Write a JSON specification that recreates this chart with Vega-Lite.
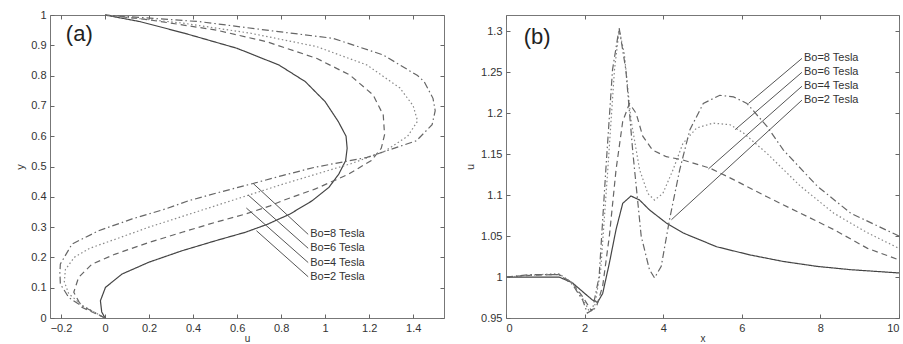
{
"$schema": "https://vega.github.io/schema/vega-lite/v6.json",
"background": "white",
"padding": {"left": 14, "top": 8, "right": 0, "bottom": 0},
"bounds": "flush",
"spacing": 62,
"config": {
  "view": {"stroke": "#777", "strokeWidth": 1},
  "font": "Liberation Sans",
  "axis": {"domain": false, "grid": false, "tickSize": -4, "tickColor": "#666", "labelFontSize": 11, "labelColor": "#333", "titleFontSize": 11, "titleFontWeight": "normal", "titleColor": "#333", "labelPadding": 8, "labelFont": "Liberation Sans", "titleFont": "Liberation Sans"}
},
"datasets": {
 "a": [
  {"s":"Bo=2 Tesla","y":0,"u":0},{"s":"Bo=2 Tesla","y":0.02,"u":-0.015},{"s":"Bo=2 Tesla","y":0.057,"u":-0.021},{"s":"Bo=2 Tesla","y":0.101,"u":0.002},{"s":"Bo=2 Tesla","y":0.145,"u":0.077},{"s":"Bo=2 Tesla","y":0.184,"u":0.199},{"s":"Bo=2 Tesla","y":0.222,"u":0.35},{"s":"Bo=2 Tesla","y":0.255,"u":0.502},{"s":"Bo=2 Tesla","y":0.283,"u":0.638},{"s":"Bo=2 Tesla","y":0.31,"u":0.74},{"s":"Bo=2 Tesla","y":0.343,"u":0.84},{"s":"Bo=2 Tesla","y":0.387,"u":0.941},{"s":"Bo=2 Tesla","y":0.431,"u":1.017},{"s":"Bo=2 Tesla","y":0.475,"u":1.062},{"s":"Bo=2 Tesla","y":0.519,"u":1.093},{"s":"Bo=2 Tesla","y":0.56,"u":1.1},{"s":"Bo=2 Tesla","y":0.6,"u":1.095},{"s":"Bo=2 Tesla","y":0.648,"u":1.06},{"s":"Bo=2 Tesla","y":0.714,"u":1.0},{"s":"Bo=2 Tesla","y":0.78,"u":0.91},{"s":"Bo=2 Tesla","y":0.835,"u":0.79},{"s":"Bo=2 Tesla","y":0.89,"u":0.6},{"s":"Bo=2 Tesla","y":0.94,"u":0.36},{"s":"Bo=2 Tesla","y":0.978,"u":0.16},{"s":"Bo=2 Tesla","y":1,"u":0},
  {"s":"Bo=4 Tesla","y":0,"u":0},{"s":"Bo=4 Tesla","y":0.035,"u":-0.105},{"s":"Bo=4 Tesla","y":0.085,"u":-0.142},{"s":"Bo=4 Tesla","y":0.134,"u":-0.12},{"s":"Bo=4 Tesla","y":0.178,"u":-0.059},{"s":"Bo=4 Tesla","y":0.211,"u":0.047},{"s":"Bo=4 Tesla","y":0.249,"u":0.199},{"s":"Bo=4 Tesla","y":0.283,"u":0.35},{"s":"Bo=4 Tesla","y":0.316,"u":0.502},{"s":"Bo=4 Tesla","y":0.343,"u":0.638},{"s":"Bo=4 Tesla","y":0.37,"u":0.75},{"s":"Bo=4 Tesla","y":0.387,"u":0.805},{"s":"Bo=4 Tesla","y":0.426,"u":0.956},{"s":"Bo=4 Tesla","y":0.475,"u":1.107},{"s":"Bo=4 Tesla","y":0.52,"u":1.21},{"s":"Bo=4 Tesla","y":0.56,"u":1.255},{"s":"Bo=4 Tesla","y":0.605,"u":1.27},{"s":"Bo=4 Tesla","y":0.67,"u":1.264},{"s":"Bo=4 Tesla","y":0.736,"u":1.218},{"s":"Bo=4 Tesla","y":0.802,"u":1.112},{"s":"Bo=4 Tesla","y":0.857,"u":0.961},{"s":"Bo=4 Tesla","y":0.912,"u":0.734},{"s":"Bo=4 Tesla","y":0.95,"u":0.506},{"s":"Bo=4 Tesla","y":0.984,"u":0.203},{"s":"Bo=4 Tesla","y":1,"u":0},
  {"s":"Bo=6 Tesla","y":0,"u":0},{"s":"Bo=6 Tesla","y":0.04,"u":-0.1},{"s":"Bo=6 Tesla","y":0.08,"u":-0.165},{"s":"Bo=6 Tesla","y":0.12,"u":-0.185},{"s":"Bo=6 Tesla","y":0.16,"u":-0.18},{"s":"Bo=6 Tesla","y":0.2,"u":-0.14},{"s":"Bo=6 Tesla","y":0.23,"u":-0.07},{"s":"Bo=6 Tesla","y":0.26,"u":0.047},{"s":"Bo=6 Tesla","y":0.3,"u":0.2},{"s":"Bo=6 Tesla","y":0.335,"u":0.35},{"s":"Bo=6 Tesla","y":0.37,"u":0.5},{"s":"Bo=6 Tesla","y":0.405,"u":0.65},{"s":"Bo=6 Tesla","y":0.44,"u":0.8},{"s":"Bo=6 Tesla","y":0.475,"u":0.96},{"s":"Bo=6 Tesla","y":0.51,"u":1.12},{"s":"Bo=6 Tesla","y":0.55,"u":1.27},{"s":"Bo=6 Tesla","y":0.6,"u":1.375},{"s":"Bo=6 Tesla","y":0.65,"u":1.42},{"s":"Bo=6 Tesla","y":0.7,"u":1.4},{"s":"Bo=6 Tesla","y":0.759,"u":1.34},{"s":"Bo=6 Tesla","y":0.835,"u":1.19},{"s":"Bo=6 Tesla","y":0.896,"u":0.96},{"s":"Bo=6 Tesla","y":0.94,"u":0.66},{"s":"Bo=6 Tesla","y":0.973,"u":0.355},{"s":"Bo=6 Tesla","y":1,"u":0},
  {"s":"Bo=8 Tesla","y":0,"u":0},{"s":"Bo=8 Tesla","y":0.046,"u":-0.12},{"s":"Bo=8 Tesla","y":0.068,"u":-0.165},{"s":"Bo=8 Tesla","y":0.112,"u":-0.203},{"s":"Bo=8 Tesla","y":0.15,"u":-0.205},{"s":"Bo=8 Tesla","y":0.178,"u":-0.203},{"s":"Bo=8 Tesla","y":0.244,"u":-0.15},{"s":"Bo=8 Tesla","y":0.288,"u":-0.029},{"s":"Bo=8 Tesla","y":0.327,"u":0.123},{"s":"Bo=8 Tesla","y":0.36,"u":0.275},{"s":"Bo=8 Tesla","y":0.387,"u":0.38},{"s":"Bo=8 Tesla","y":0.415,"u":0.52},{"s":"Bo=8 Tesla","y":0.444,"u":0.673},{"s":"Bo=8 Tesla","y":0.47,"u":0.805},{"s":"Bo=8 Tesla","y":0.497,"u":0.95},{"s":"Bo=8 Tesla","y":0.53,"u":1.19},{"s":"Bo=8 Tesla","y":0.585,"u":1.415},{"s":"Bo=8 Tesla","y":0.638,"u":1.486},{"s":"Bo=8 Tesla","y":0.684,"u":1.5},{"s":"Bo=8 Tesla","y":0.725,"u":1.49},{"s":"Bo=8 Tesla","y":0.78,"u":1.45},{"s":"Bo=8 Tesla","y":0.8,"u":1.42},{"s":"Bo=8 Tesla","y":0.868,"u":1.264},{"s":"Bo=8 Tesla","y":0.923,"u":1.036},{"s":"Bo=8 Tesla","y":0.95,"u":0.734},{"s":"Bo=8 Tesla","y":0.978,"u":0.43},{"s":"Bo=8 Tesla","y":1,"u":0}
 ],
 "pa": [
  {"s":"Bo=8 Tesla","u1":0.673,"y1":0.444,"u2":0.923,"y2":0.276},
  {"s":"Bo=6 Tesla","u1":0.65,"y1":0.406,"u2":0.923,"y2":0.23},
  {"s":"Bo=4 Tesla","u1":0.642,"y1":0.363,"u2":0.923,"y2":0.183},
  {"s":"Bo=2 Tesla","u1":0.688,"y1":0.288,"u2":0.923,"y2":0.136}
 ],
 "b": [
  {"s":"Bo=2 Tesla","x":0,"u":1.0},{"s":"Bo=2 Tesla","x":0.5,"u":1.0},{"s":"Bo=2 Tesla","x":1,"u":1.0},{"s":"Bo=2 Tesla","x":1.35,"u":1.0},{"s":"Bo=2 Tesla","x":1.69,"u":0.993},{"s":"Bo=2 Tesla","x":1.99,"u":0.9805},{"s":"Bo=2 Tesla","x":2.2,"u":0.972},{"s":"Bo=2 Tesla","x":2.33,"u":0.969},{"s":"Bo=2 Tesla","x":2.46,"u":0.98},{"s":"Bo=2 Tesla","x":2.63,"u":1.017},{"s":"Bo=2 Tesla","x":2.8,"u":1.058},{"s":"Bo=2 Tesla","x":2.97,"u":1.09},{"s":"Bo=2 Tesla","x":3.18,"u":1.099},{"s":"Bo=2 Tesla","x":3.4,"u":1.094},{"s":"Bo=2 Tesla","x":3.65,"u":1.082},{"s":"Bo=2 Tesla","x":4.08,"u":1.066},{"s":"Bo=2 Tesla","x":4.5,"u":1.054},{"s":"Bo=2 Tesla","x":5.36,"u":1.037},{"s":"Bo=2 Tesla","x":6.21,"u":1.027},{"s":"Bo=2 Tesla","x":7.06,"u":1.019},{"s":"Bo=2 Tesla","x":7.92,"u":1.013},{"s":"Bo=2 Tesla","x":8.77,"u":1.009},{"s":"Bo=2 Tesla","x":10,"u":1.005},
  {"s":"Bo=4 Tesla","x":0,"u":1.0},{"s":"Bo=4 Tesla","x":0.6,"u":1.002},{"s":"Bo=4 Tesla","x":1.2,"u":1.003},{"s":"Bo=4 Tesla","x":1.35,"u":1.003},{"s":"Bo=4 Tesla","x":1.69,"u":0.993},{"s":"Bo=4 Tesla","x":1.95,"u":0.976},{"s":"Bo=4 Tesla","x":2.16,"u":0.96},{"s":"Bo=4 Tesla","x":2.29,"u":0.962},{"s":"Bo=4 Tesla","x":2.46,"u":0.989},{"s":"Bo=4 Tesla","x":2.63,"u":1.05},{"s":"Bo=4 Tesla","x":2.8,"u":1.131},{"s":"Bo=4 Tesla","x":2.97,"u":1.19},{"s":"Bo=4 Tesla","x":3.14,"u":1.212},{"s":"Bo=4 Tesla","x":3.31,"u":1.2},{"s":"Bo=4 Tesla","x":3.48,"u":1.172},{"s":"Bo=4 Tesla","x":3.73,"u":1.155},{"s":"Bo=4 Tesla","x":4.08,"u":1.147},{"s":"Bo=4 Tesla","x":4.5,"u":1.143},{"s":"Bo=4 Tesla","x":5.19,"u":1.133},{"s":"Bo=4 Tesla","x":5.79,"u":1.119},{"s":"Bo=4 Tesla","x":6.64,"u":1.098},{"s":"Bo=4 Tesla","x":7.49,"u":1.078},{"s":"Bo=4 Tesla","x":8.34,"u":1.058},{"s":"Bo=4 Tesla","x":9.2,"u":1.035},{"s":"Bo=4 Tesla","x":10,"u":1.021},
  {"s":"Bo=6 Tesla","x":0,"u":1.0},{"s":"Bo=6 Tesla","x":0.6,"u":1.002},{"s":"Bo=6 Tesla","x":1.2,"u":1.004},{"s":"Bo=6 Tesla","x":1.35,"u":1.004},{"s":"Bo=6 Tesla","x":1.69,"u":0.993},{"s":"Bo=6 Tesla","x":1.95,"u":0.974},{"s":"Bo=6 Tesla","x":2.12,"u":0.958},{"s":"Bo=6 Tesla","x":2.24,"u":0.96},{"s":"Bo=6 Tesla","x":2.41,"u":1.009},{"s":"Bo=6 Tesla","x":2.59,"u":1.131},{"s":"Bo=6 Tesla","x":2.76,"u":1.253},{"s":"Bo=6 Tesla","x":2.88,"u":1.302},{"s":"Bo=6 Tesla","x":3.01,"u":1.273},{"s":"Bo=6 Tesla","x":3.18,"u":1.192},{"s":"Bo=6 Tesla","x":3.4,"u":1.131},{"s":"Bo=6 Tesla","x":3.61,"u":1.102},{"s":"Bo=6 Tesla","x":3.78,"u":1.094},{"s":"Bo=6 Tesla","x":3.99,"u":1.102},{"s":"Bo=6 Tesla","x":4.25,"u":1.131},{"s":"Bo=6 Tesla","x":4.5,"u":1.163},{"s":"Bo=6 Tesla","x":4.85,"u":1.182},{"s":"Bo=6 Tesla","x":5.27,"u":1.188},{"s":"Bo=6 Tesla","x":5.7,"u":1.186},{"s":"Bo=6 Tesla","x":6.04,"u":1.176},{"s":"Bo=6 Tesla","x":6.64,"u":1.151},{"s":"Bo=6 Tesla","x":7.49,"u":1.111},{"s":"Bo=6 Tesla","x":8.34,"u":1.078},{"s":"Bo=6 Tesla","x":9.2,"u":1.054},{"s":"Bo=6 Tesla","x":10,"u":1.035},
  {"s":"Bo=8 Tesla","x":0,"u":1.0},{"s":"Bo=8 Tesla","x":0.6,"u":1.003},{"s":"Bo=8 Tesla","x":1.2,"u":1.003},{"s":"Bo=8 Tesla","x":1.35,"u":1.003},{"s":"Bo=8 Tesla","x":1.69,"u":0.991},{"s":"Bo=8 Tesla","x":1.95,"u":0.972},{"s":"Bo=8 Tesla","x":2.07,"u":0.956},{"s":"Bo=8 Tesla","x":2.2,"u":0.96},{"s":"Bo=8 Tesla","x":2.37,"u":1.001},{"s":"Bo=8 Tesla","x":2.54,"u":1.131},{"s":"Bo=8 Tesla","x":2.71,"u":1.253},{"s":"Bo=8 Tesla","x":2.88,"u":1.304},{"s":"Bo=8 Tesla","x":3.05,"u":1.253},{"s":"Bo=8 Tesla","x":3.23,"u":1.151},{"s":"Bo=8 Tesla","x":3.44,"u":1.05},{"s":"Bo=8 Tesla","x":3.65,"u":1.009},{"s":"Bo=8 Tesla","x":3.78,"u":0.999},{"s":"Bo=8 Tesla","x":3.95,"u":1.013},{"s":"Bo=8 Tesla","x":4.16,"u":1.07},{"s":"Bo=8 Tesla","x":4.42,"u":1.131},{"s":"Bo=8 Tesla","x":4.68,"u":1.18},{"s":"Bo=8 Tesla","x":5.02,"u":1.212},{"s":"Bo=8 Tesla","x":5.44,"u":1.222},{"s":"Bo=8 Tesla","x":5.79,"u":1.22},{"s":"Bo=8 Tesla","x":6.13,"u":1.212},{"s":"Bo=8 Tesla","x":6.64,"u":1.184},{"s":"Bo=8 Tesla","x":7.06,"u":1.155},{"s":"Bo=8 Tesla","x":7.92,"u":1.111},{"s":"Bo=8 Tesla","x":8.77,"u":1.078},{"s":"Bo=8 Tesla","x":10,"u":1.05}
 ],
 "pb": [
  {"s":"Bo=8 Tesla","x1":6.17,"u1":1.212,"x2":7.53,"u2":1.267},
  {"s":"Bo=6 Tesla","x1":5.83,"u1":1.18,"x2":7.53,"u2":1.25},
  {"s":"Bo=4 Tesla","x1":5.15,"u1":1.132,"x2":7.53,"u2":1.233},
  {"s":"Bo=2 Tesla","x1":4.21,"u1":1.07,"x2":7.53,"u2":1.216}
 ]
},
"hconcat": [
 {
  "width": 394, "height": 303,
  "resolve": {"axis": {"x": "independent", "y": "independent"}},
  "layer": [
   {
    "data": {"name": "a"},
    "mark": {"type": "line", "strokeWidth": 1.2},
    "encoding": {
     "x": {"field": "u", "type": "quantitative", "scale": {"domain": [-0.25, 1.54], "nice": false, "zero": false}, "axis": {"values": [-0.2, 0, 0.2, 0.4, 0.6, 0.8, 1, 1.2, 1.4], "format": "~r", "title": "u", "titlePadding": 0, "titleFontSize": 10}},
     "y": {"field": "y", "type": "quantitative", "scale": {"domain": [0, 1], "nice": false}, "axis": {"values": [0, 0.1, 0.2, 0.3, 0.4, 0.5, 0.6, 0.7, 0.8, 0.9, 1], "format": "~r", "title": "y", "titlePadding": 5}},
     "order": {"field": "y", "type": "quantitative"},
     "strokeDash": {"field": "s", "type": "nominal", "scale": {"domain": ["Bo=2 Tesla", "Bo=4 Tesla", "Bo=6 Tesla", "Bo=8 Tesla"], "range": [[1, 0], [6, 4], [1.5, 2.5], [7, 3, 1.5, 3]]}, "legend": null},
     "color": {"field": "s", "type": "nominal", "scale": {"domain": ["Bo=2 Tesla", "Bo=4 Tesla", "Bo=6 Tesla", "Bo=8 Tesla"], "range": ["#444", "#666", "#888", "#666"]}, "legend": null}
    }
   },
   {
    "data": {"name": "pa"},
    "mark": {"type": "rule", "color": "#555", "strokeWidth": 1},
    "encoding": {
     "x": {"field": "u1", "type": "quantitative", "scale": {"domain": [-0.25, 1.54], "nice": false, "zero": false}, "axis": {"orient": "top", "values": [-0.2, 0, 0.2, 0.4, 0.6, 0.8, 1, 1.2, 1.4], "labels": false, "title": null}},
     "y": {"field": "y1", "type": "quantitative", "scale": {"domain": [0, 1], "nice": false}, "axis": {"orient": "right", "values": [0, 0.1, 0.2, 0.3, 0.4, 0.5, 0.6, 0.7, 0.8, 0.9, 1], "labels": false, "title": null}},
     "x2": {"field": "u2"},
     "y2": {"field": "y2"}
    }
   },
   {
    "data": {"name": "pa"},
    "mark": {"type": "text", "align": "left", "baseline": "middle", "dx": 2, "fontSize": 11, "color": "#333", "font": "Liberation Sans"},
    "encoding": {
     "x": {"field": "u2", "type": "quantitative", "axis": null},
     "y": {"field": "y2", "type": "quantitative", "axis": null},
     "text": {"field": "s"}
    }
   },
   {
    "data": {"values": [{"t": "(a)", "u": -0.178, "y": 0.937}]},
    "mark": {"type": "text", "align": "left", "baseline": "middle", "fontSize": 22, "color": "#222", "font": "Liberation Sans"},
    "encoding": {
     "x": {"field": "u", "type": "quantitative", "axis": null},
     "y": {"field": "y", "type": "quantitative", "axis": null},
     "text": {"field": "t"}
    }
   }
  ]
 },
 {
  "width": 393, "height": 303,
  "resolve": {"axis": {"x": "independent", "y": "independent"}},
  "layer": [
   {
    "data": {"name": "b"},
    "mark": {"type": "line", "strokeWidth": 1.2},
    "encoding": {
     "x": {"field": "x", "type": "quantitative", "scale": {"domain": [0, 10], "nice": false}, "axis": {"values": [0, 2, 4, 6, 8, 10], "format": "~r", "title": "x", "titlePadding": 0, "titleFontSize": 10}},
     "y": {"field": "u", "type": "quantitative", "scale": {"domain": [0.95, 1.32], "nice": false, "zero": false}, "axis": {"values": [0.95, 1, 1.05, 1.1, 1.15, 1.2, 1.25, 1.3], "format": "~r", "title": "u", "titlePadding": 5}},
     "order": {"field": "x", "type": "quantitative"},
     "strokeDash": {"field": "s", "type": "nominal", "scale": {"domain": ["Bo=2 Tesla", "Bo=4 Tesla", "Bo=6 Tesla", "Bo=8 Tesla"], "range": [[1, 0], [6, 4], [1.5, 2.5], [7, 3, 1.5, 3]]}, "legend": null},
     "color": {"field": "s", "type": "nominal", "scale": {"domain": ["Bo=2 Tesla", "Bo=4 Tesla", "Bo=6 Tesla", "Bo=8 Tesla"], "range": ["#444", "#666", "#888", "#666"]}, "legend": null}
    }
   },
   {
    "data": {"name": "pb"},
    "mark": {"type": "rule", "color": "#555", "strokeWidth": 1},
    "encoding": {
     "x": {"field": "x1", "type": "quantitative", "scale": {"domain": [0, 10], "nice": false}, "axis": {"orient": "top", "values": [0, 2, 4, 6, 8, 10], "labels": false, "title": null}},
     "y": {"field": "u1", "type": "quantitative", "scale": {"domain": [0.95, 1.32], "nice": false, "zero": false}, "axis": {"orient": "right", "values": [0.95, 1, 1.05, 1.1, 1.15, 1.2, 1.25, 1.3], "labels": false, "title": null}},
     "x2": {"field": "x2"},
     "y2": {"field": "u2"}
    }
   },
   {
    "data": {"name": "pb"},
    "mark": {"type": "text", "align": "left", "baseline": "middle", "dx": 2, "fontSize": 11, "color": "#333", "font": "Liberation Sans"},
    "encoding": {
     "x": {"field": "x2", "type": "quantitative", "axis": null},
     "y": {"field": "u2", "type": "quantitative", "axis": null},
     "text": {"field": "s"}
    }
   },
   {
    "data": {"values": [{"t": "(b)", "x": 0.45, "u": 1.293}]},
    "mark": {"type": "text", "align": "left", "baseline": "middle", "fontSize": 22, "color": "#222", "font": "Liberation Sans"},
    "encoding": {
     "x": {"field": "x", "type": "quantitative", "axis": null},
     "y": {"field": "u", "type": "quantitative", "axis": null},
     "text": {"field": "t"}
    }
   }
  ]
 }
]
}
